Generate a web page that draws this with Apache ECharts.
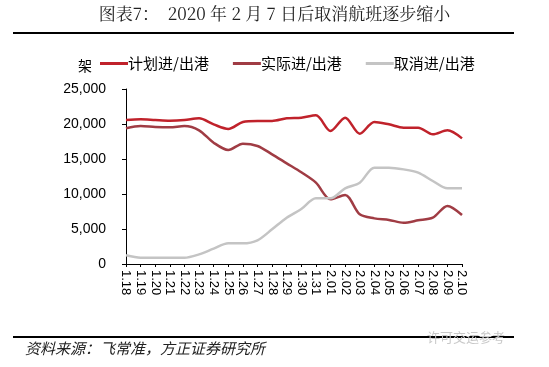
<!DOCTYPE html>
<html><head><meta charset="utf-8">
<script src="https://cdn.jsdelivr.net/npm/echarts@6/dist/echarts.min.js"></script>
<style>html,body{margin:0;padding:0;background:#fff}#c{width:549px;height:367px}</style>
</head><body><div id="c"></div>
<script>
const categories = ['1.18','1.19','1.20','1.21','1.22','1.23','1.24','1.25','1.26','1.27','1.28','1.29','1.30','1.31','2.01','2.02','2.03','2.04','2.05','2.06','2.07','2.08','2.09','2.10'];
const planned = [20570,20670,20570,20480,20570,20810,19950,19290,20290,20430,20430,20810,20900,21240,19000,20900,18620,20290,19950,19480,19480,18520,19100,17950];
const actual = [19380,19710,19570,19520,19710,19100,17330,16290,17190,16860,15670,14380,13100,11620,9240,9860,7100,6520,6290,5900,6240,6620,8290,7000];
const cancelled = [1240,900,900,900,900,1380,2190,2950,2950,3380,4950,6620,7850,9380,9380,10810,11620,13760,13760,13520,13050,11860,10810,10810];
const seriesNames = ['计划进/出港','实际进/出港','取消进/出港'];
const yTicks = [0,5000,10000,15000,20000,25000];

const chart = echarts.init(document.getElementById('c'));
const fmt = v => v === 0 ? '0' : v.toLocaleString('en-US');
chart.setOption({
  animation:false,
  backgroundColor:'#fff',
  grid:{left:126,right:87,top:89,bottom:103},
  legend:{
    left:95, top:51, itemWidth:28, itemHeight:3, itemGap:24,
    icon:'rect',
    textStyle:{fontFamily:'"Noto Sans CJK SC"',fontSize:15,color:'#000',padding:[0,0,0,-5]},
    data:seriesNames
  },
  xAxis:{
    type:'category', data:categories, boundaryGap:false,
    axisLine:{lineStyle:{color:'#000',width:1}},
    axisTick:{show:true,length:3,interval:0,lineStyle:{color:'#000'}},
    axisLabel:{rotate:-90,interval:0,fontFamily:'Arial, "Liberation Sans"',fontSize:13,color:'#000',margin:6}
  },
  yAxis:{
    type:'value', min:yTicks[0], max:yTicks[yTicks.length-1], interval:5000,
    splitLine:{show:false},
    axisLine:{show:true,lineStyle:{color:'#000',width:1}},
    axisTick:{show:true,length:4,lineStyle:{color:'#000'}},
    axisLabel:{formatter:fmt,fontFamily:'Arial, "Liberation Sans"',fontSize:14,color:'#000',margin:20}
  },
  series:[
    {name:seriesNames[0],type:'line',data:planned,smooth:0.3,symbol:'none',lineStyle:{color:'#C0222B',width:2.5},itemStyle:{color:'#C0222B'}},
    {name:seriesNames[1],type:'line',data:actual,smooth:0.3,symbol:'none',lineStyle:{color:'#A03C44',width:2.5},itemStyle:{color:'#A03C44'}},
    {name:seriesNames[2],type:'line',data:cancelled,smooth:0.3,symbol:'none',lineStyle:{color:'#C4C4C4',width:2.5},itemStyle:{color:'#C4C4C4'}}
  ],
  graphic:[
    {type:'text',left:'center',top:5,style:{text:'图表7：  2020 年 2 月 7 日后取消航班逐步缩小',font:'17px "Noto Serif CJK SC", "Noto Sans CJK SC", serif',fill:'#222'}},
    {type:'rect',shape:{x:13,y:32,width:501,height:2},style:{fill:'#000'}},
    {type:'text',left:78,top:59,style:{text:'架',font:'14px "Noto Sans CJK SC"',fill:'#000'}},
    {type:'rect',shape:{x:13,y:336,width:501,height:2},style:{fill:'#000'}},
    {type:'text',left:25,top:341,style:{text:'资料来源：飞常准，方正证券研究所',font:'italic 15px "Noto Sans CJK SC"',fill:'#222'}},
    {type:'text',left:427,top:331,style:{text:'许可交运参考',font:'13px "Noto Sans CJK SC"',fill:'#c8c8c8'}}
  ]
});
</script></body></html>
